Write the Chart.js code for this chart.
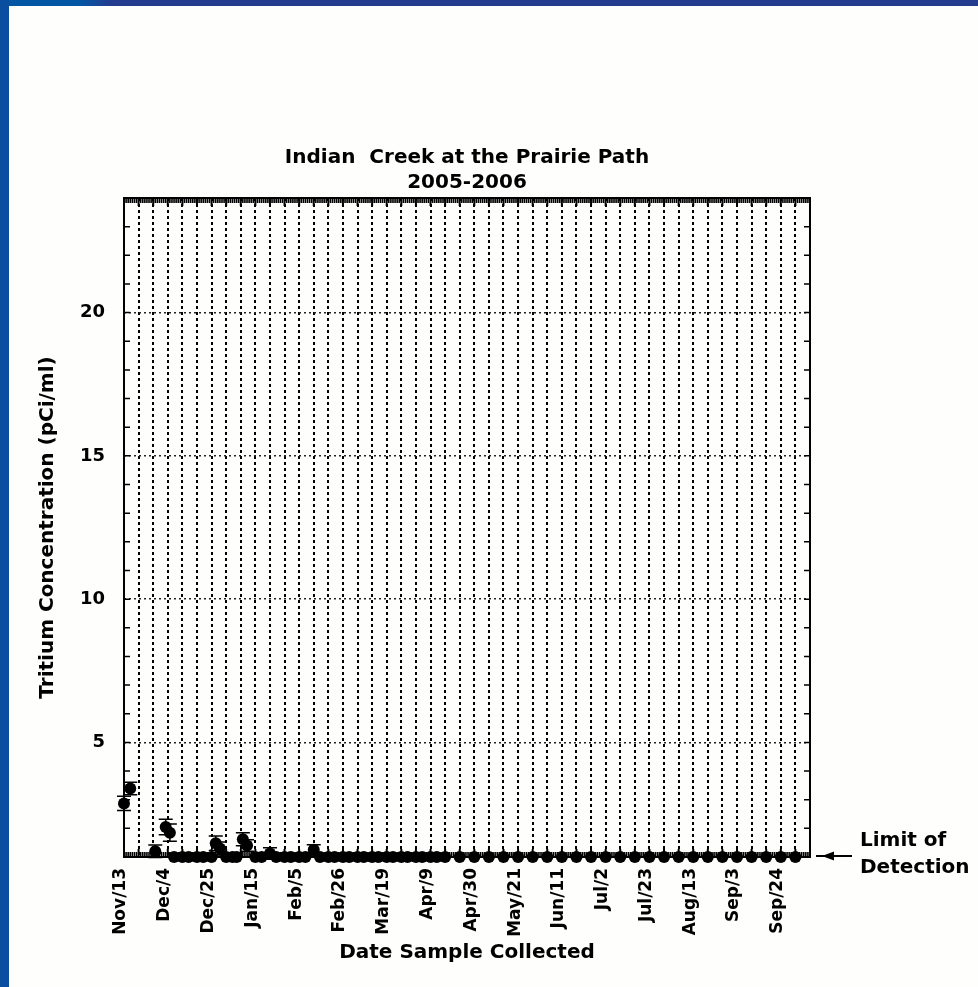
<!DOCTYPE html>
<html>
<head>
<meta charset="utf-8">
<script src="https://cdn.jsdelivr.net/npm/chart.js@4/dist/chart.umd.min.js"></script>
<style>
  html, body { margin: 0; padding: 0; background: #fefefc; }
  #wrap { position: relative; width: 978px; height: 987px; overflow: hidden; }
  #topbar { position: absolute; left: 0; top: 0; width: 978px; height: 6px;
    background: linear-gradient(to right, #0256a4 0, #0256a4 80px, #233c8e 110px); }
  #leftbar { position: absolute; left: 0; top: 0; width: 9px; height: 987px; background: #0a4e9f; }
  canvas { position: absolute; left: 0; top: 0; }
</style>
</head>
<body>
<div id="wrap">
  <canvas id="tritiumChart" width="978" height="987"></canvas>
  <div id="topbar"></div>
  <div id="leftbar"></div>
</div>
<script>
// days counted from Nov 13, 2005
const titleLines = ['Indian  Creek at the Prairie Path', '2005-2006'];
const xTickLabels = ['Nov/13', 'Dec/4', 'Dec/25', 'Jan/15', 'Feb/5', 'Feb/26', 'Mar/19', 'Apr/9',
  'Apr/30', 'May/21', 'Jun/11', 'Jul/2', 'Jul/23', 'Aug/13', 'Sep/3', 'Sep/24'];
const yTickLabels = [5, 10, 15, 20];
const detectionLimit = 1;

const sampleDay = [0, 3, 15, 20, 22, 24, 28, 31, 35, 38, 42, 44, 46, 49, 52, 54, 57, 59, 63, 66,
  70, 73, 77, 80, 84, 87, 91, 94, 98, 101, 105, 108, 112, 115, 119, 122, 126, 129, 133, 136,
  140, 143, 147, 150, 154, 161, 168, 175, 182, 189, 196, 203, 210, 217, 224, 231, 238, 245,
  252, 259, 266, 273, 280, 287, 294, 301, 308, 315, 322];
const tritium = [2.87, 3.39, 1.2, 2.05, 1.85, 1, 1, 1, 1, 1, 1, 1.48, 1.3, 1, 1, 1, 1.62, 1.4, 1, 1,
  1.12, 1, 1, 1, 1, 1, 1.25, 1, 1, 1, 1, 1, 1, 1, 1, 1, 1, 1, 1, 1,
  1, 1, 1, 1, 1, 1, 1, 1, 1, 1, 1, 1, 1, 1, 1, 1, 1, 1,
  1, 1, 1, 1, 1, 1, 1, 1, 1, 1, 1];
const tritiumErr = [0.25, 0.22, 0.22, 0.27, 0.3, 0, 0, 0, 0, 0, 0, 0.25, 0.22, 0, 0, 0, 0.23, 0.2, 0, 0,
  0.2, 0, 0, 0, 0, 0, 0.18, 0, 0, 0, 0, 0, 0, 0, 0, 0, 0, 0, 0, 0,
  0, 0, 0, 0, 0, 0, 0, 0, 0, 0, 0, 0, 0, 0, 0, 0, 0, 0,
  0, 0, 0, 0, 0, 0, 0, 0, 0, 0, 0];

const FONT = 'DejaVu Sans';

const frameTicks = {
  id: 'frameTicks',
  beforeDatasetsDraw(chart) {
    const { ctx, chartArea: a, scales: { x, y } } = chart;
    ctx.save();
    ctx.strokeStyle = '#000';
    // y ticks, inward on both sides
    ctx.lineWidth = 1.5;
    y.ticks.forEach(t => {
      const py = y.getPixelForValue(t.value);
      ctx.beginPath();
      ctx.moveTo(a.left, py); ctx.lineTo(a.left + 6, py);
      ctx.moveTo(a.right, py); ctx.lineTo(a.right - 6, py);
      ctx.stroke();
    });
    // dense day ticks on top and bottom
    for (let d = x.min; d <= x.max; d++) {
      const px = x.getPixelForValue(d);
      const len = d % 7 === 0 ? 8 : 5;
      ctx.lineWidth = d % 7 === 0 ? 2 : 1.6;
      ctx.beginPath();
      ctx.moveTo(px, a.top); ctx.lineTo(px, a.top + len);
      ctx.moveTo(px, a.bottom); ctx.lineTo(px, a.bottom - len);
      ctx.stroke();
    }
    ctx.lineWidth = 2;
    ctx.strokeRect(a.left, a.top, a.right - a.left, a.bottom - a.top);
    ctx.restore();
  }
};

const errorBars = {
  id: 'errorBars',
  beforeDatasetsDraw(chart) {
    const { ctx, scales: { x, y } } = chart;
    ctx.save();
    ctx.strokeStyle = '#000';
    ctx.lineWidth = 1.5;
    sampleDay.forEach((d, i) => {
      const e = tritiumErr[i];
      if (!e) return;
      const px = x.getPixelForValue(d);
      const hi = y.getPixelForValue(tritium[i] + e);
      const lo = y.getPixelForValue(tritium[i] - e);
      ctx.beginPath();
      ctx.moveTo(px, hi); ctx.lineTo(px, lo);
      ctx.moveTo(px - 7, hi); ctx.lineTo(px + 7, hi);
      ctx.moveTo(px - 7, lo); ctx.lineTo(px + 7, lo);
      ctx.stroke();
    });
    ctx.restore();
  }
};

const detectionNote = {
  id: 'detectionNote',
  afterDraw(chart) {
    const { ctx, chartArea: a, scales: { y } } = chart;
    const py = y.getPixelForValue(detectionLimit) - 1;
    ctx.save();
    ctx.strokeStyle = '#000';
    ctx.fillStyle = '#000';
    ctx.lineWidth = 2;
    ctx.beginPath();
    ctx.moveTo(a.right + 6, py); ctx.lineTo(a.right + 42, py);
    ctx.stroke();
    ctx.beginPath();
    ctx.moveTo(a.right + 12, py);
    ctx.lineTo(a.right + 24, py - 4.5);
    ctx.lineTo(a.right + 24, py + 4.5);
    ctx.closePath();
    ctx.fill();
    ctx.font = 'bold 20px "' + FONT + '"';
    ctx.textBaseline = 'middle';
    ctx.fillText('Limit of', a.right + 50, py - 15);
    ctx.fillText('Detection', a.right + 50, py + 12);
    ctx.restore();
  }
};

const ctx = document.getElementById('tritiumChart').getContext('2d');
new Chart(ctx, {
  type: 'scatter',
  data: {
    datasets: [{
      data: sampleDay.map((d, i) => ({ x: d, y: tritium[i] })),
      backgroundColor: '#000',
      borderColor: '#000',
      borderWidth: 0,
      pointRadius: 6,
      pointHoverRadius: 6,
      clip: false
    }]
  },
  options: {
    responsive: false,
    animation: false,
    events: [],
    layout: { padding: { top: 140, right: 168, bottom: 0, left: 0 } },
    plugins: {
      legend: { display: false },
      tooltip: { enabled: false },
      title: {
        display: true,
        fullSize: false,
        text: titleLines,
        color: '#000',
        font: { family: FONT, size: 20, weight: 'bold', lineHeight: 1.25 },
        padding: { top: 5, bottom: 3 }
      }
    },
    scales: {
      x: {
        type: 'linear',
        min: 0,
        max: 329,
        ticks: {
          stepSize: 7,
          autoSkip: false,
          minRotation: 90,
          maxRotation: 90,
          padding: 11,
          labelOffset: -3,
          color: '#000',
          font: { family: FONT, size: 17, weight: 'bold' },
          callback: v => (v % 21 === 0 && xTickLabels[v / 21]) ? xTickLabels[v / 21] : ''
        },
        grid: { color: '#000', lineWidth: 2, drawTicks: false },
        border: { display: false, dash: [3, 3] },
        title: {
          display: true,
          text: 'Date Sample Collected',
          color: '#000',
          font: { family: FONT, size: 20, weight: 'bold' },
          padding: { top: 0, bottom: 22 }
        },
        afterFit: s => { s.height = 130; }
      },
      y: {
        min: 1,
        max: 24,
        ticks: {
          stepSize: 1,
          autoSkip: false,
          padding: 19,
          color: '#000',
          font: { family: FONT, size: 18, weight: 'bold' },
          callback: v => yTickLabels.includes(v) ? String(v) : ''
        },
        grid: {
          color: c => (c.tick && yTickLabels.includes(c.tick.value)) ? '#222' : 'rgba(0,0,0,0)',
          lineWidth: 1.5,
          drawTicks: false
        },
        border: { display: false, dash: [2, 3] },
        title: {
          display: true,
          text: 'Tritium Concentration (pCi/ml)',
          color: '#000',
          font: { family: FONT, size: 20, weight: 'bold' },
          padding: { top: 36, bottom: 0 }
        },
        afterFit: s => { s.width = 124; }
      }
    }
  },
  plugins: [frameTicks, errorBars, detectionNote]
});
</script>
</body>
</html>
